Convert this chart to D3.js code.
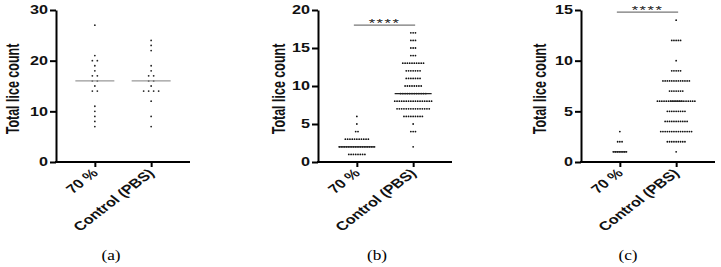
<!DOCTYPE html>
<html>
<head>
<meta charset="utf-8">
<script src="https://cdn.jsdelivr.net/npm/d3@7"></script>
<style>
  body { margin: 0; background: #fff; }
  svg { display: block; }
</style>
</head>
<body>
<div id="chart"></div>
<script>
// groups on the x axis
const categories = ['70 %', 'Control (PBS)'];

// [value, number of animals]
const aTreated = [[27,1],[21,1],[20,2],[19,1],[18,1],[17,2],[16,2],[15,1],[14,2],[11,1],[10,1],[9,1],[8,1],[7,1]];
const aControl = [[24,1],[23,1],[22,1],[19,1],[18,1],[17,2],[16,2],[15,1],[14,4],[12,1],[9,1],[7,1]];

const bTreated = [[6,1],[5,1],[4,2],[3,11],[2,16],[1,8]];
const bControl = [[17,3],[16,3],[15,3],[14,3],[13,10],[12,7],[11,7],[10,8],[9,12],[8,17],[7,15],[6,9],[5,1],[4,3],[2,1]];

const cTreated = [[3,1],[2,3],[1,7]];
const cControl = [[14,1],[12,5],[10,1],[9,5],[8,13],[7,7],[6,18],[5,9],[4,11],[3,15],[2,9],[1,1]];

// y axis ticks
const aTicks = [0, 10, 20, 30];
const bTicks = [0, 5, 10, 15, 20];
const cTicks = [0, 5, 10, 15];

// significance bar height (in lice) and label
const sigLevels = [null, 18, 14.8];
const sigLabels = [null, '****', '****'];
const panelLabels = ['(a)', '(b)', '(c)'];

const yTitle = 'Total lice count';

// layout only
const panels = [
  { groups: [aTreated, aControl], ticks: aTicks, x0: 56, titleX: 19, labelX: 111, spacing: 5, medW: 39, medColor: '#999', dotColor: '#222' },
  { groups: [bTreated, bControl], ticks: bTicks, x0: 318, titleX: 285, labelX: 377, spacing: 2.3, medW: 37, medColor: '#222', dotColor: '#111' },
  { groups: [cTreated, cControl], ticks: cTicks, x0: 581, titleX: 545.5, labelX: 628, spacing: 2.2, medW: 13, medColor: '#222', dotColor: '#111' }
];

const W = 721, H = 267;
const plotTop = 10, plotBottom = 162, axisW = 134;
const sx = 1.3; // text in the figure is stretched sideways

const svg = d3.select('#chart').append('svg')
  .attr('width', W).attr('height', H);

panels.forEach((p, pi) => {
  const g = svg.append('g');

  const yscale = d3.scaleLinear()
    .domain([0, d3.max(p.ticks)])
    .range([plotBottom, plotTop]);

  const xscale = d3.scalePoint()
    .domain(categories)
    .range([p.x0, p.x0 + axisW])
    .padding(0.69);

  // dots
  p.groups.forEach((rows, gi) => {
    const cx = xscale(categories[gi]);
    rows.forEach(([v, n]) => {
      for (let i = 0; i < n; i++) {
        g.append('circle')
          .attr('cx', cx + (i - (n - 1) / 2) * p.spacing)
          .attr('cy', yscale(v))
          .attr('r', 0.9)
          .attr('fill', p.dotColor);
      }
    });
    // median line
    const vals = rows.flatMap(([v, n]) => d3.range(n).map(() => v));
    const med = d3.median(vals);
    g.append('line')
      .attr('x1', cx - p.medW / 2).attr('x2', cx + p.medW / 2)
      .attr('y1', yscale(med)).attr('y2', yscale(med))
      .attr('stroke', p.medColor)
      .attr('stroke-width', 1.3);
  });

  // y axis
  const yaxis = d3.axisLeft(yscale).tickValues(p.ticks).tickSize(6).tickSizeOuter(0);
  const ya = g.append('g')
    .attr('transform', `translate(${p.x0},0)`)
    .call(yaxis);
  ya.select('.domain').attr('stroke-width', 2);
  ya.selectAll('.tick line').attr('stroke-width', 2);
  ya.selectAll('.tick text')
    .attr('x', null)
    .attr('transform', `translate(-8,0) scale(1.35,1)`)
    .style('font-family', 'Liberation Sans, Arial, sans-serif')
    .style('font-weight', 'bold')
    .style('font-size', '12px')
    .attr('fill', '#111');

  // x axis
  const xaxis = d3.axisBottom(xscale).tickSize(5).tickSizeOuter(0);
  const xa = g.append('g')
    .attr('transform', `translate(0,${plotBottom})`)
    .call(xaxis);
  xa.select('.domain').attr('stroke-width', 2).attr('d', `M${p.x0 - 1},0H${p.x0 + axisW}`);
  xa.selectAll('.tick line').attr('stroke-width', 2);
  xa.selectAll('.tick text').remove();

  categories.forEach(c => {
    g.append('text')
      .attr('transform', `translate(${xscale(c) + 4},${plotBottom + 12}) scale(${sx},1) rotate(-45)`)
      .attr('text-anchor', 'end')
      .style('font-family', 'Liberation Sans, Arial, sans-serif')
      .style('font-weight', 'bold')
      .style('font-size', '12.5px')
      .attr('fill', '#111')
      .text(c);
  });

  // y title
  g.append('text')
    .attr('transform', `translate(${p.titleX},${(plotTop + plotBottom) / 2 + 3}) scale(1.4,1) rotate(-90)`)
    .attr('text-anchor', 'middle')
    .style('font-family', 'Liberation Sans, Arial, sans-serif')
    .style('font-weight', 'bold')
    .style('font-size', '12.5px')
    .attr('fill', '#111')
    .text(yTitle);

  // significance bar
  if (sigLevels[pi] !== null) {
    const x1 = xscale(categories[0]) - 3, x2 = xscale(categories[1]) + 2;
    const ys = yscale(sigLevels[pi]);
    g.append('line')
      .attr('x1', x1).attr('x2', x2)
      .attr('y1', ys).attr('y2', ys)
      .attr('stroke', '#777')
      .attr('stroke-width', 1.3);
    g.append('text')
      .attr('transform', `translate(${(x1 + x2) / 2},${ys + 2}) scale(1.5,1)`)
      .attr('text-anchor', 'middle')
      .style('font-family', 'Liberation Sans, Arial, sans-serif')
      .style('font-size', '11px')
      .style('letter-spacing', '1px')
      .attr('fill', '#222')
      .text(sigLabels[pi]);
  }

  // panel label
  svg.append('text')
    .attr('transform', `translate(${p.labelX},260) scale(1.15,1)`)
    .attr('text-anchor', 'middle')
    .style('font-family', 'Liberation Serif, Times New Roman, serif')
    .style('font-size', '15px')
    .attr('fill', '#000')
    .text(panelLabels[pi]);
});
</script>
</body>
</html>
